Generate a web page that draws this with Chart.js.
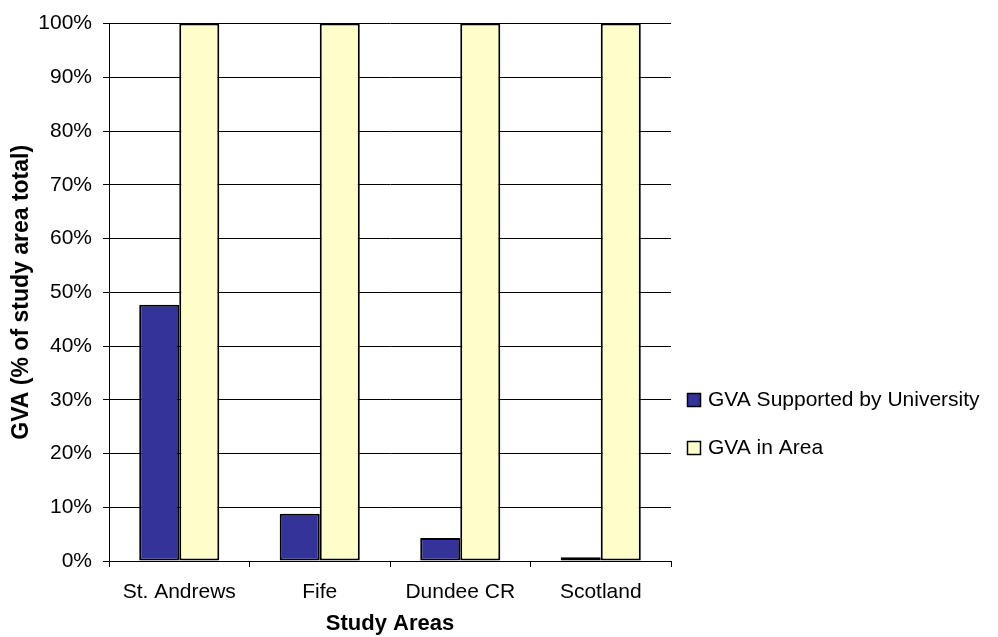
<!DOCTYPE html>
<html>
<head>
<meta charset="utf-8">
<script src="https://cdn.jsdelivr.net/npm/chart.js@4"></script>
<style>
  html, body { margin: 0; padding: 0; background: #fff; }
  #wrap { width: 998px; height: 637px; }
</style>
</head>
<body>
<div id="wrap"><canvas id="myChart" width="998" height="637"></canvas></div>
<script>
var areas = ['St. Andrews', 'Fife', 'Dundee CR', 'Scotland'];
var gvaUniversity = [47.7, 8.8, 4.3, 0.7];
var gvaArea = [100, 100, 100, 100];
var seriesNames = ['GVA Supported by University', 'GVA in Area'];
var yTicks = [0, 10, 20, 30, 40, 50, 60, 70, 80, 90, 100];

Chart.defaults.font.family = '"Liberation Sans", Arial, sans-serif';
Chart.defaults.font.size = 21;
Chart.defaults.color = '#000';

// legend drawn at the right, next to the plot like the original
var sideLegend = {
    id: 'sideLegend',
    afterDraw: function (chart) {
        var ctx = chart.ctx;
        var x = chart.chartArea.right + 16;
        var ys = [400, 448];
        ctx.save();
        chart.data.datasets.forEach(function (ds, i) {
            ctx.fillStyle = ds.backgroundColor;
            ctx.fillRect(x + 0.5, ys[i] - 6.5, 13, 13);
            ctx.strokeStyle = '#000';
            ctx.lineWidth = 1.5;
            ctx.strokeRect(x + 0.5, ys[i] - 6.5, 13, 13);
            ctx.fillStyle = '#000';
            ctx.font = '21px "Liberation Sans", Arial, sans-serif';
            ctx.textBaseline = 'middle';
            ctx.textAlign = 'left';
            ctx.fillText(ds.label, x + 21, ys[i]);
        });
        ctx.restore();
    }
};

var ctx = document.getElementById('myChart').getContext('2d');
var chart = new Chart(ctx, {
    type: 'bar',
    data: {
        labels: areas,
        datasets: [{
            label: seriesNames[0],
            backgroundColor: '#333399',
            borderColor: '#000',
            borderWidth: 2,
            borderSkipped: false,
            data: gvaUniversity
        }, {
            label: seriesNames[1],
            backgroundColor: '#FFFFCC',
            borderColor: '#000',
            borderWidth: 2,
            borderSkipped: false,
            data: gvaArea
        }]
    },
    options: {
        responsive: false,
        animation: false,
        layout: { padding: { top: 21, right: 327, bottom: 0, left: 0 } },
        datasets: { bar: { categoryPercentage: 0.57, barPercentage: 1 } },
        plugins: {
            legend: { display: false },
            tooltip: { enabled: false }
        },
        scales: {
            x: {
                grid: { drawOnChartArea: false, drawTicks: true, tickLength: 6, color: '#000', offset: true },
                border: { color: '#000', width: 1 },
                ticks: { padding: 13, color: '#000' },
                title: { display: true, text: 'Study Areas', font: { weight: 'bold', size: 22 }, padding: { top: 0, bottom: 0 } },
                afterFit: function (scale) { scale.height = 76; }
            },
            y: {
                min: 0,
                max: 100,
                afterBuildTicks: function (scale) {
                    scale.ticks = yTicks.map(function (v) { return { value: v }; });
                },
                grid: { color: '#000', tickLength: 6 },
                border: { color: '#000', width: 1 },
                ticks: {
                    padding: 11,
                    color: '#000',
                    callback: function (v) { return v + '%'; }
                },
                title: { display: true, text: 'GVA (% of study area total)', font: { weight: 'bold', size: 23 }, padding: { top: 8, bottom: 0 } },
                afterFit: function (scale) { scale.width = 109; }
            }
        }
    },
    plugins: [sideLegend]
});
</script>
</body>
</html>
